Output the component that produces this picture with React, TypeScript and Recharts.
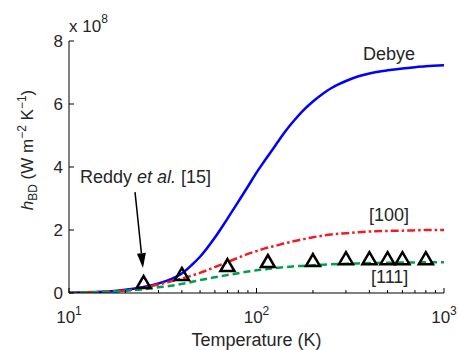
import React from 'react';
import { ComposedChart, Line, Scatter, XAxis, YAxis, ReferenceDot, ReferenceLine } from 'recharts';

// temperatures (K) sampled for the model curves
const temps = [10, 12, 15, 18, 20, 25, 30, 35, 40, 45, 50, 60, 70, 80, 90, 100, 110, 120, 130, 140, 150, 160, 175, 200, 225, 250, 275, 300, 350, 400, 500, 600, 700, 800, 1000];

// h_BD in units of 1e8 W m^-2 K^-1
const debye = [0.01, 0.02, 0.04, 0.07, 0.1, 0.19, 0.3, 0.44, 0.62, 0.88, 1.15, 1.76, 2.36, 2.9, 3.38, 3.82, 4.18, 4.5, 4.8, 5.07, 5.3, 5.5, 5.76, 6.08, 6.32, 6.5, 6.63, 6.73, 6.88, 6.97, 7.07, 7.13, 7.17, 7.2, 7.23];
const dir100 = [0.01, 0.02, 0.04, 0.06, 0.08, 0.17, 0.27, 0.37, 0.46, 0.55, 0.64, 0.82, 0.98, 1.12, 1.24, 1.33, 1.41, 1.47, 1.52, 1.57, 1.61, 1.65, 1.7, 1.77, 1.82, 1.86, 1.88, 1.9, 1.93, 1.95, 1.97, 1.98, 1.99, 2.0, 2.0];
const dir111 = [0.01, 0.02, 0.03, 0.05, 0.07, 0.12, 0.18, 0.23, 0.29, 0.35, 0.41, 0.5, 0.57, 0.63, 0.68, 0.72, 0.75, 0.78, 0.8, 0.82, 0.83, 0.85, 0.86, 0.88, 0.9, 0.91, 0.92, 0.93, 0.94, 0.95, 0.96, 0.97, 0.97, 0.98, 0.98];

// Reddy et al. [15]
const reddyTemps = [25, 40, 70, 115, 200, 300, 400, 500, 600, 800];
const reddyH = [0.33, 0.59, 0.87, 1.0, 1.03, 1.09, 1.09, 1.09, 1.09, 1.09];

const xMajor = [10, 100, 1000];
const xTicks = [10, 20, 30, 40, 50, 60, 70, 80, 90, 100, 200, 300, 400, 500, 600, 700, 800, 900, 1000];
const yTicks = [0, 2, 4, 6, 8];

const FONT = '"Liberation Sans", Arial, Helvetica, sans-serif';
const INK = '#262626';

const toPoints = (ys: number[]) => temps.map((t, i) => ({ T: t, h: ys[i] }));
const debyeData = toPoints(debye);
const data100 = toPoints(dir100);
const data111 = toPoints(dir111);
const reddyData = reddyTemps.map((t, i) => ({ T: t, h: reddyH[i] }));

const BottomTick = (props: any) => {
  const { x, y, payload } = props;
  const major = xMajor.includes(payload.value);
  return (
    <g>
      <line x1={x} x2={x} y1={y} y2={y - (major ? 5 : 3)} stroke="#000" />
      {major && (
        <text x={x} y={y + 30} textAnchor="middle" fontFamily={FONT} fontSize={17} fill={INK}>
          10<tspan fontSize={12} dy={-8}>{Math.round(Math.log10(payload.value))}</tspan>
        </text>
      )}
    </g>
  );
};

const TopTick = (props: any) => {
  const { x, y, payload } = props;
  const major = xMajor.includes(payload.value);
  return <line x1={x} x2={x} y1={y} y2={y + (major ? 5 : 3)} stroke="#000" />;
};

const LeftTick = (props: any) => {
  const { x, y, payload } = props;
  return (
    <g>
      <line x1={x} x2={x + 5} y1={y} y2={y} stroke="#000" />
      <text x={x - 6} y={y + 6} textAnchor="end" fontFamily={FONT} fontSize={17} fill={INK}>
        {payload.value}
      </text>
    </g>
  );
};

const RightTick = (props: any) => {
  const { x, y } = props;
  return <line x1={x} x2={x - 5} y1={y} y2={y} stroke="#000" />;
};

const XLabel = (props: any) => {
  const { x, y, width } = props.viewBox;
  return (
    <text x={x + width / 2} y={y + 53} textAnchor="middle" fontFamily={FONT} fontSize={18} fill={INK}>
      Temperature (K)
    </text>
  );
};

const YLabel = (props: any) => {
  const { x, y, width } = props.viewBox;
  const cx = 33;
  const cy = 150;
  return (
    <g fontFamily={FONT} fill={INK}>
      <text x={x + width} y={y - 9} fontSize={17}>
        x 10<tspan fontSize={12} dy={-9}>8</tspan>
      </text>
      <text x={cx} y={cy} transform={`rotate(-90, ${cx}, ${cy})`} textAnchor="middle" fontSize={17}>
        <tspan fontStyle="italic">h</tspan>
        <tspan fontSize={12} dy={4}>BD</tspan>
        <tspan dy={-4}>{' (W m'}</tspan>
        <tspan fontSize={12} dy={-7}>{'\u22122'}</tspan>
        <tspan dy={7}>{' K'}</tspan>
        <tspan fontSize={12} dy={-7}>{'\u22121'}</tspan>
        <tspan dy={7}>)</tspan>
      </text>
    </g>
  );
};

const Triangle = (props: any) => {
  const { cx, cy } = props;
  return (
    <path
      d={`M${cx},${cy - 6.5} L${cx + 7},${cy + 5.5} L${cx - 7},${cy + 5.5} Z`}
      fill="none"
      stroke="#000"
      strokeWidth={2.5}
    />
  );
};

const Arrow = (props: any) => {
  const { x1, y1, x2, y2 } = props;
  const len = Math.hypot(x2 - x1, y2 - y1);
  const ux = (x2 - x1) / len;
  const uy = (y2 - y1) / len;
  const head = 15;
  const half = 4.5;
  const bx = x2 - ux * head;
  const by = y2 - uy * head;
  return (
    <g>
      <line x1={x1} y1={y1} x2={bx} y2={by} stroke="#000" strokeWidth={1.5} />
      <path
        d={`M${x2},${y2} L${bx - uy * half},${by + ux * half} L${bx + uy * half},${by - ux * half} Z`}
        fill="#000"
      />
    </g>
  );
};

const textAt = (content: React.ReactNode) => (p: any) => (
  <text x={p.cx} y={p.cy} fontFamily={FONT} fontSize={18} fill={INK}>
    {content}
  </text>
);

export default function App() {
  return (
    <div style={{ position: 'absolute', left: 0, top: 0, background: '#fff' }}>
      <ComposedChart width={458} height={350} margin={{ top: 41, right: 14, bottom: 0, left: 0 }}>
        <XAxis
          dataKey="T"
          type="number"
          scale="log"
          domain={[10, 1000]}
          allowDataOverflow
          ticks={xTicks}
          interval={0}
          height={57}
          tickSize={0}
          tickMargin={0}
          tickLine={false}
          axisLine={{ stroke: '#000' }}
          tick={(p: any) => <BottomTick {...p} />}
          label={(p: any) => <XLabel {...p} />}
        />
        <XAxis
          xAxisId="top"
          orientation="top"
          type="number"
          scale="log"
          domain={[10, 1000]}
          allowDataOverflow
          ticks={xTicks}
          interval={0}
          height={0}
          tickSize={0}
          tickMargin={0}
          tickLine={false}
          axisLine={{ stroke: '#000' }}
          tick={(p: any) => <TopTick {...p} />}
        />
        <YAxis
          type="number"
          domain={[0, 8]}
          allowDataOverflow
          ticks={yTicks}
          interval={0}
          width={69}
          tickSize={0}
          tickMargin={0}
          tickLine={false}
          axisLine={{ stroke: '#000' }}
          tick={(p: any) => <LeftTick {...p} />}
          label={(p: any) => <YLabel {...p} />}
        />
        <YAxis
          yAxisId="right"
          orientation="right"
          type="number"
          domain={[0, 8]}
          allowDataOverflow
          ticks={yTicks}
          interval={0}
          width={0}
          tickSize={0}
          tickMargin={0}
          tickLine={false}
          axisLine={{ stroke: '#333', strokeWidth: 1.5 }}
          tick={(p: any) => <RightTick {...p} />}
        />
        <Line data={debyeData} dataKey="h" type="monotone" stroke="#0000ff" strokeWidth={2.5} dot={false} isAnimationActive={false} />
        <Line data={data100} dataKey="h" type="monotone" stroke="#ee1d24" strokeWidth={2.5} strokeDasharray="8 3 2.5 3" dot={false} isAnimationActive={false} />
        <Line data={data111} dataKey="h" type="monotone" stroke="#00a04b" strokeWidth={2.5} strokeDasharray="7 4" dot={false} isAnimationActive={false} />
        <Scatter data={reddyData} dataKey="h" shape={(p: any) => <Triangle {...p} />} isAnimationActive={false} />
        <ReferenceLine segment={[{ x: 22.5, y: 3.2 }, { x: 24.8, y: 0.79 }]} ifOverflow="visible" shape={(p: any) => <Arrow {...p} />} />
        <ReferenceDot x={370} y={7.4} r={0} ifOverflow="visible" shape={textAt('Debye')} />
        <ReferenceDot x={398} y={2.29} r={0} ifOverflow="visible" shape={textAt('[100]')} />
        <ReferenceDot x={408} y={0.32} r={0} ifOverflow="visible" shape={textAt('[111]')} />
        <ReferenceDot
          x={11.45}
          y={3.49}
          r={0}
          ifOverflow="visible"
          shape={textAt(
            <>
              {'Reddy '}
              <tspan fontStyle="italic">et al.</tspan>
              {' [15]'}
            </>
          )}
        />
      </ComposedChart>
    </div>
  );
}
